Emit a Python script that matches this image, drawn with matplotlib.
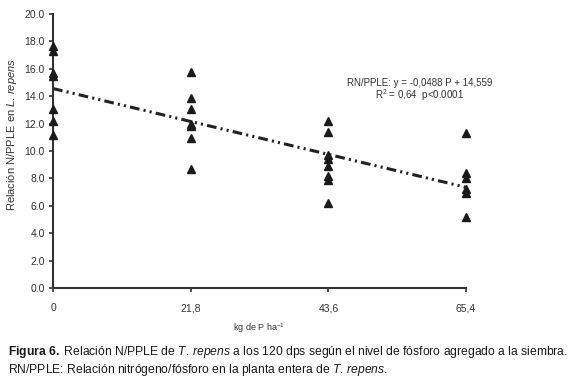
import matplotlib
matplotlib.use("Agg")
import matplotlib.pyplot as plt
import numpy as np

# Datos
dosis = [0, 21.8, 43.6, 65.4]
etiquetas_x = ["0", "21,8", "43,6", "65,4"]
rn_0 = [17.7, 17.3, 15.7, 15.5, 13.1, 12.2, 11.2]
rn_218 = [15.8, 13.85, 13.05, 12.0, 11.8, 10.95, 8.7]
rn_436 = [12.2, 11.4, 9.7, 9.45, 8.9, 8.2, 7.9, 6.2]
rn_654 = [11.3, 8.4, 8.05, 7.2, 6.9, 5.2]
# recta de la figura (la ecuación está en P2O5, el eje en P)
intercepto = 14.559
y_final = 7.35

fuente = "Liberation Sans"
plt.rcParams["font.family"] = [fuente, "DejaVu Sans"]
plt.rcParams["mathtext.fontset"] = "custom"
plt.rcParams["mathtext.rm"] = fuente
plt.rcParams["mathtext.it"] = fuente + ":italic"
plt.rcParams["mathtext.bf"] = fuente + ":bold"
plt.rcParams["lines.scale_dashes"] = False

fig = plt.figure(figsize=(5.7, 3.85), dpi=100)
ax = fig.add_axes([0.093, 0.252, 0.7245, 0.7116])

grupos = [rn_0, rn_218, rn_436, rn_654]
for x, vals in zip(dosis, grupos):
    ax.plot([x] * len(vals), vals, linestyle="none", marker="^", color="#1a1a1a",
            markersize=5.5, clip_on=False, zorder=3)

ax.plot([dosis[0], dosis[-1]], [intercepto, y_final], color="#222222", linewidth=2.2,
        dashes=(7, 3, 1.5, 3, 1.5, 3), zorder=2)

ax.text(58, 15.0, "RN/PPLE: y = -0,0488 P + 14,559", ha="center", va="center",
        fontsize=7, color="#333333")
ax.text(58, 14.1, "R$^2$ = 0,64  p<0.0001", ha="center", va="center",
        fontsize=7, color="#333333")

ax.set_xlim(0, 65.4)
ax.set_ylim(0, 20)
ax.set_xticks(dosis)
ax.set_xticklabels(etiquetas_x)
ax.set_yticks(np.arange(0, 20.1, 2))
ax.set_yticklabels([f"{v:.1f}" for v in np.arange(0, 20.1, 2)])
ax.tick_params(labelsize=7.5, colors="#333333", length=3, width=1.2, pad=8)
ax.tick_params(axis="y", pad=3)
for s in ["top", "right"]:
    ax.spines[s].set_visible(False)
for s in ["left", "bottom"]:
    ax.spines[s].set_linewidth(1.5)
    ax.spines[s].set_color("#333333")

ax.set_xlabel("kg de P ha$^{-1}$", fontsize=6.5, color="#333333", labelpad=6)
ax.set_ylabel("Relación N/PPLE en $\\mathit{L.\\,repens}$", fontsize=8, color="#333333")
ax.yaxis.set_label_coords(-0.083, 0.56)

fig.text(0.014, 0.085, "$\\mathbf{Figura\\ 6.}$ Relación N/PPLE de $\\mathit{T.\\,repens}$ a los 120 dps según el nivel de fósforo agregado a la siembra.",
         fontsize=8.7, color="#1a1a1a", va="center")
fig.text(0.014, 0.038, "RN/PPLE: Relación nitrógeno/fósforo en la planta entera de $\\mathit{T.\\,repens.}$",
         fontsize=8.7, color="#1a1a1a", va="center")

fig.savefig("out.png", dpi=100)
